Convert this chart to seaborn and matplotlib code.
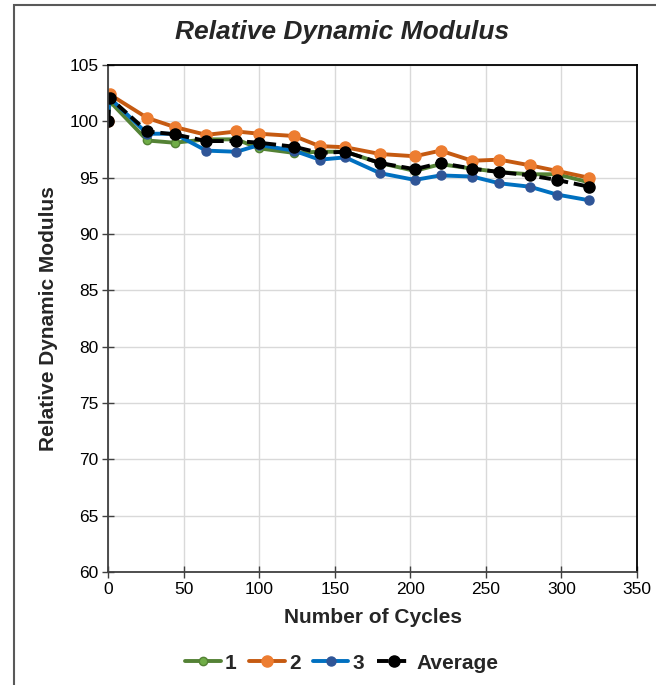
import matplotlib
matplotlib.use('Agg')
import matplotlib.pyplot as plt
from matplotlib.patches import Rectangle
import seaborn as sns
import pandas as pd

cycles = [0, 1, 26, 44, 65, 85, 100, 123, 140, 157, 180, 203, 220, 241, 259, 279, 297, 318]
s1 = [100, 101.8, 98.3, 98.1, 98.4, 98.4, 97.6, 97.2, 97.3, 97.3, 96.3, 95.6, 96.2, 95.8, 95.5, 95.3, 95.3, 94.6]
s2 = [100, 102.4, 100.3, 99.5, 98.8, 99.1, 98.9, 98.7, 97.8, 97.7, 97.1, 96.9, 97.4, 96.5, 96.6, 96.1, 95.6, 95.0]
s3 = [100, 102.1, 98.9, 98.9, 97.4, 97.3, 97.9, 97.4, 96.6, 96.8, 95.4, 94.8, 95.2, 95.1, 94.5, 94.2, 93.5, 93.0]
avg = [100, 102.1, 99.1, 98.85, 98.25, 98.25, 98.1, 97.75, 97.2, 97.3, 96.3, 95.75, 96.3, 95.8, 95.5, 95.2, 94.8, 94.2]

x_ticks = [0, 50, 100, 150, 200, 250, 300, 350]
y_ticks = [60, 65, 70, 75, 80, 85, 90, 95, 100, 105]

sns.set_theme(style='whitegrid')
plt.rcParams['font.family'] = ['Liberation Sans', 'DejaVu Sans']

fig = plt.figure(figsize=(6.56, 6.85), dpi=100)
ax = fig.add_axes([108/656, 1 - 572/685, (637 - 108)/656, (572 - 65)/685])

df = pd.DataFrame({'cycles': cycles, '1': s1, '2': s2, '3': s3, 'Average': avg})

styles = [
    ('1', '#548235', '#70AD47', '#548235', 6, '-'),
    ('2', '#C55A11', '#ED7D31', '#ED7D31', 8, '-'),
    ('3', '#0070C0', '#2F5597', '#2F5597', 6.5, '-'),
    ('Average', 'black', 'black', 'black', 8, (0, (3, 1.5))),
]
for name, lc, mfc, mec, ms, ls in styles:
    sns.lineplot(data=df, x='cycles', y=name, ax=ax, color=lc, linewidth=2.8,
                 linestyle=ls, marker='o', markersize=ms, markerfacecolor=mfc,
                 markeredgecolor=mec, markeredgewidth=1, label=name, sort=False)

ax.set_xlim(0, 350)
ax.set_ylim(60, 105)
ax.set_xticks(x_ticks)
ax.set_yticks(y_ticks)
ax.tick_params(axis='both', labelsize=12.5, colors='#404040', direction='inout', length=8,
               width=1, left=True, bottom=True, labelcolor='black', pad=3)
ax.grid(True, color='#d9d9d9', linewidth=1)
for side in ['left', 'bottom']:
    ax.spines[side].set_color('#404040')
    ax.spines[side].set_linewidth(1.3)
for side in ['top', 'right']:
    ax.spines[side].set_color('black')
    ax.spines[side].set_linewidth(1.3)

fig.text(342/656, 1 - 32/685, 'Relative Dynamic Modulus', fontsize=19, fontweight='bold',
         fontstyle='italic', ha='center', va='center')
ax.set_xlabel('Number of Cycles', fontsize=15, fontweight='bold', labelpad=8)
ax.set_ylabel('Relative Dynamic Modulus', fontsize=15, fontweight='bold', labelpad=8)

ax.legend(loc='center', bbox_to_anchor=(0.442, -0.18), ncol=4, frameon=False,
          prop={'weight': 'bold', 'size': 15}, handlelength=1.7, columnspacing=0.6,
          handletextpad=0.2)

fig.add_artist(Rectangle((14/656, -0.05), 1.0, 1 - 5/685 + 0.05, transform=fig.transFigure,
                         fill=False, edgecolor='#595959', linewidth=1.5))

plt.savefig('out.png', dpi=100)
